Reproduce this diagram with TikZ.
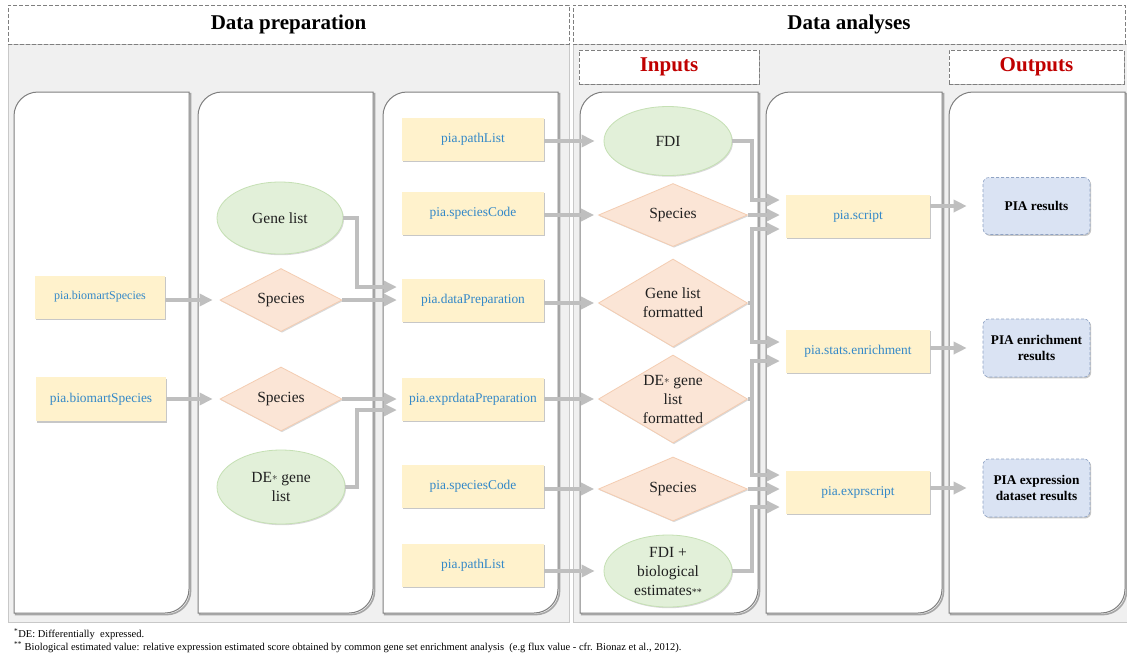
\documentclass[tikz,border=0pt]{standalone}
\usepackage{fontspec}
\setmainfont{Liberation Serif}
\usetikzlibrary{shapes.geometric,arrows.meta,shadows,calc}

\definecolor{bggray}{HTML}{F0F0F0}
\definecolor{bgline}{HTML}{C8C8C8}
\definecolor{panelline}{HTML}{7F7F7F}
\definecolor{panelshade}{HTML}{A6A6A6}
\definecolor{yfill}{HTML}{FFF2CC}
\definecolor{ytext}{HTML}{3388C8}
\definecolor{pfill}{HTML}{FBE5D6}
\definecolor{pline}{HTML}{F4CDB2}
\definecolor{gfill}{HTML}{E2F0D9}
\definecolor{gline}{HTML}{C5E0B4}
\definecolor{bfill}{HTML}{DAE3F3}
\definecolor{bline}{HTML}{8FA3C4}
\definecolor{arrowgray}{HTML}{BFBFBF}
\definecolor{titlered}{HTML}{C00000}

% small centred star used after "DE"
\newcommand\destar{\raisebox{2pt}{\fontsize{11}{11}\selectfont$\ast$}}

\tikzset{
  hdr/.style={draw=panelline, dash pattern=on 4pt off 2pt, line width=1pt,
    fill=white, inner sep=0pt, font=\fontsize{21}{24}\selectfont\bfseries},
  subhdr/.style={hdr, text=titlered,
    drop shadow={shadow xshift=1.2pt, shadow yshift=-1.2pt, fill=black!30, opacity=1}},
  ybox/.style={fill=yfill, inner sep=0pt, text=ytext,
    font=\fontsize{13.4}{16}\selectfont,
    drop shadow={shadow xshift=1.4pt, shadow yshift=-1.6pt, fill=black!22, opacity=1}},
  colthree/.style={ybox, minimum width=142pt, minimum height=43pt},
  colfive/.style={ybox, minimum width=144pt, minimum height=43pt},
  ellip/.style={ellipse, fill=gfill, draw=gline, line width=0.8pt, inner sep=0pt,
    drop shadow={shadow xshift=1pt, shadow yshift=-1.2pt, fill=black!15, opacity=1}},
  diam/.style={diamond, fill=pfill, draw=pline, line width=0.8pt, inner sep=0pt,
    drop shadow={shadow xshift=1pt, shadow yshift=-1.2pt, fill=black!15, opacity=1}},
  stxt/.style={inner sep=0pt, align=center, text=black!88,
    font=\fontsize{15.5}{19}\selectfont},
  obox/.style={fill=bfill, draw=bline, densely dashed, line width=0.6pt,
    rounded corners=6pt, inner sep=0pt, align=center, minimum width=107pt,
    font=\fontsize{13.3}{16}\selectfont\bfseries,
    drop shadow={shadow xshift=1.2pt, shadow yshift=-1.4pt, fill=black!22, opacity=1}},
  arr/.style={draw=arrowgray, line width=4pt, -{Triangle[length=13pt,width=12pt]}},
  fnote/.style={inner sep=0pt, anchor=west, font=\fontsize{10.5}{12}\selectfont}
}

% lane panel: rounded top-left and bottom-right corners, with a shade
\newcommand\lanepanel[4]{%
  \draw[panelshade, line width=1.6pt, shift={(1.6,1.6)}]
    (#1,#2+24) arc[start angle=180, end angle=90, radius=24pt] -- (#3,#2)
    -- (#3,#4-24) arc[start angle=0, end angle=-90, radius=24pt] -- (#1,#4) -- cycle;
  \draw[panelline, line width=1pt, fill=white]
    (#1,#2+24) arc[start angle=180, end angle=90, radius=24pt] -- (#3,#2)
    -- (#3,#4-24) arc[start angle=0, end angle=-90, radius=24pt] -- (#1,#4) -- cycle;
}

\begin{document}
\begin{tikzpicture}[x=1pt, y=-1pt]
\useasboundingbox (0,0) rectangle (1127,657);
\fill[white] (0,0) rectangle (1127,657);

% grey section backgrounds
\filldraw[fill=bggray, draw=bgline, line width=0.8pt] (8,44) rectangle (569,622);
\filldraw[fill=bggray, draw=bgline, line width=0.8pt] (573,44) rectangle (1127,622);

% section headers
\node[hdr, minimum width=561pt, minimum height=39pt] (hprep) at (288.5,24.5) {Data preparation};
\node[hdr, minimum width=552pt, minimum height=39pt] (hana) at (849,24.5) {Data analyses};
\node[subhdr, minimum width=180pt, minimum height=34pt] (hin) at (669,67) {Inputs};
\node[subhdr, minimum width=175pt, minimum height=34pt] (hout) at (1036.5,67) {Outputs};

% lanes
\lanepanel{14}{92}{189}{613}
\lanepanel{198}{92}{373}{613}
\lanepanel{383}{92}{558}{613}
\lanepanel{580}{92}{758}{613}
\lanepanel{766}{92}{942}{613}
\lanepanel{949}{92}{1125}{613}

% lane 1
\node[ybox, minimum width=130pt, minimum height=43pt, font=\fontsize{12}{14}\selectfont] (bm1) at (100,297) {pia.biomartSpecies};
\node[ybox, minimum width=130pt, minimum height=44pt] (bm2) at (101,399) {pia.biomartSpecies};

% lane 2
\node[ellip, minimum width=126pt, minimum height=72pt] (gl) at (280,218) {};
\node[stxt] (gl-t) at (gl) {Gene list};
\node[diam, minimum width=122pt, minimum height=63pt] (sp1) at (281,300) {};
\node[stxt] (sp1-t) at (sp1) {Species};
\node[diam, minimum width=122pt, minimum height=64pt] (sp2) at (281,399) {};
\node[stxt] (sp2-t) at (sp2) {Species};
\node[ellip, minimum width=128pt, minimum height=74pt] (deg) at (281,487) {};
\node[stxt] (deg-t) at (deg) {DE\destar{} gene\\list};

% lane 3
\node[colthree] (pl1) at (473,139) {pia.pathList};
\node[colthree] (sc1) at (473,213) {pia.speciesCode};
\node[colthree] (dp) at (473,300) {pia.dataPreparation};
\node[colthree] (edp) at (473,399) {pia.exprdataPreparation};
\node[colthree] (sc2) at (473,486) {pia.speciesCode};
\node[colthree] (pl2) at (473,565) {pia.pathList};

% lane 4: inputs
\node[ellip, minimum width=128pt, minimum height=69pt] (fdi) at (668,141) {};
\node[stxt] (fdi-t) at (fdi) {FDI};
\node[diam, minimum width=149pt, minimum height=63pt] (isp1) at (673,215) {};
\node[stxt] (isp1-t) at (isp1) {Species};
\node[diam, minimum width=149pt, minimum height=88pt] (glf) at (673,303) {};
\node[stxt] (glf-t) at (glf) {Gene list\\formatted};
\node[diam, minimum width=149pt, minimum height=88pt] (dglf) at (673,399) {};
\node[stxt] (dglf-t) at (dglf) {DE\destar{} gene\\list\\formatted};
\node[diam, minimum width=149pt, minimum height=64pt] (isp2) at (673,489) {};
\node[stxt] (isp2-t) at (isp2) {Species};
\node[ellip, minimum width=128pt, minimum height=72pt] (fdib) at (668,571) {};
\node[stxt] (fdib-t) at (fdib) {FDI +\\biological\\estimates{\fontsize{10}{10}\selectfont **}};

% lane 5
\node[colfive] (scr) at (858,216) {pia.script};
\node[colfive] (enr) at (858,351) {pia.stats.enrichment};
\node[colfive] (exs) at (858,492) {pia.exprscript};

% lane 6: outputs
\node[obox, minimum height=57pt] (res) at (1036.5,206) {PIA results};
\node[obox, minimum height=58pt] (eres) at (1036.5,348) {PIA enrichment\\results};
\node[obox, minimum height=58pt] (xres) at (1036.5,488) {PIA expression\\dataset results};

% connectors: lane 1 -> lane 2
\draw[arr, shorten >=7pt] (bm1.east |- sp1) -- (sp1.west);
\draw[arr, shorten >=7pt] (bm2.east |- sp2) -- (sp2.west);

% lane 2 -> lane 3
\draw[arr] (gl.east) -- ++(14,0) |- ([xshift=-5pt,yshift=13pt]dp.west);
\draw[arr, shorten >=5pt] (sp1.east) -- (sp1.east -| dp.west);
\draw[arr, shorten >=5pt] (sp2.east) -- (sp2.east -| edp.west);
\draw[arr] (deg.east) -- ++(12,0) |- ([xshift=-5pt,yshift=-11pt]edp.west);

% lane 3 -> lane 4
\draw[arr, shorten >=9pt] (pl1.east |- fdi) -- (fdi.west);
\draw[arr, shorten >=4pt] (sc1.east |- isp1) -- (isp1.west);
\draw[arr, shorten >=4pt] (dp.east |- glf) -- (glf.west);
\draw[arr, shorten >=4pt] (edp.east |- dglf) -- (dglf.west);
\draw[arr, shorten >=4pt] (sc2.east |- isp2) -- (isp2.west);
\draw[arr, shorten >=9pt] (pl2.east |- fdib) -- (fdib.west);

% lane 4 -> lane 5
\draw[arr] (fdi.east) -- ++(20,0) |- ([xshift=-6pt,yshift=16pt]scr.west);
\draw[arr, shorten >=6pt] (isp1.east) -- (isp1.east -| scr.west);
\draw[arr] (glf.east) -- ++(4,0) |- ([xshift=-6pt,yshift=-13pt]scr.west);
\draw[arr] (glf.east) -- ++(4,0) |- ([xshift=-6pt,yshift=9pt]enr.west);
\draw[arr] (dglf.east) -- ++(4,0) |- ([xshift=-6pt,yshift=-10pt]enr.west);
\draw[arr] (dglf.east) -- ++(4,0) |- ([xshift=-6pt,yshift=17pt]exs.west);
\draw[arr, shorten >=6pt] (isp2.east) -- (isp2.east -| exs.west);
\draw[arr] (fdib.east) -- ++(20,0) |- ([xshift=-6pt,yshift=-15pt]exs.west);

% lane 5 -> lane 6
\draw[arr, shorten >=16pt] (scr.east |- res) -- (res.west);
\draw[arr, shorten >=16pt] (enr.east |- eres) -- (eres.west);
\draw[arr, shorten >=16pt] (exs.east |- xres) -- (xres.west);

% footnotes
\node[fnote] (fn1) at (14,634) {\textsuperscript{*}DE: Differentially\ \ expressed.};
\node[fnote] (fn2) at (14,647) {\textsuperscript{**} Biological estimated value: relative expression estimated score obtained by common gene set enrichment analysis\ \ (e.g flux value - cfr. Bionaz et al., 2012).};
\end{tikzpicture}
\end{document}
